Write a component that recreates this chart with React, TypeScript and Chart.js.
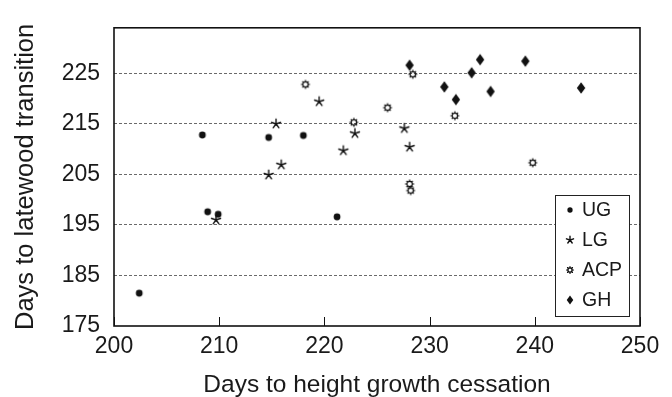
import React, { useEffect, useRef } from "react";
import { Chart, registerables } from "chart.js";

Chart.register(...registerables);

const seriesNames = ["UG", "LG", "ACP", "GH"];

const ugX = [202.4, 208.4, 208.9, 209.9, 214.7, 218.0, 221.2];
const ugY = [181.5, 212.8, 197.6, 197.1, 212.3, 212.7, 196.6];

const lgX = [209.7, 214.7, 215.4, 215.9, 219.5, 221.8, 222.9, 227.6, 228.1];
const lgY = [196.0, 204.9, 215.0, 206.9, 219.4, 209.7, 213.1, 214.1, 210.4];

const acpX = [218.2, 222.8, 226.0, 228.1, 228.2, 228.4, 232.4, 239.8];
const acpY = [222.8, 215.3, 218.2, 203.1, 201.8, 224.8, 216.6, 207.3];

const ghX = [228.1, 231.4, 232.5, 234.0, 234.8, 235.8, 239.1, 244.4];
const ghY = [226.6, 222.3, 219.8, 225.1, 227.7, 221.4, 227.4, 222.1];

const xTicks = [200, 210, 220, 230, 240, 250];
const yTicks = [175, 185, 195, 205, 215, 225];
const xTitle = "Days to height growth cessation";
const yTitle = "Days to latewood transition";

const FONT = "'Liberation Sans', Arial, Helvetica, sans-serif";
const INK = "#111111";

type DrawFn = (ctx: CanvasRenderingContext2D, cx: number, cy: number, s: number) => void;

const drawDot: DrawFn = (ctx, cx, cy, s) => {
  ctx.beginPath();
  ctx.arc(cx, cy, 3.4 * s, 0, Math.PI * 2);
  ctx.fillStyle = INK;
  ctx.fill();
};

const drawAsterisk: DrawFn = (ctx, cx, cy, s) => {
  ctx.strokeStyle = INK;
  ctx.lineWidth = 1.4;
  ctx.lineCap = "round";
  ctx.beginPath();
  for (let k = 0; k < 5; k++) {
    const a = -Math.PI / 2 + (k * 2 * Math.PI) / 5;
    ctx.moveTo(cx, cy);
    ctx.lineTo(cx + Math.cos(a) * 4.8 * s, cy + Math.sin(a) * 4.8 * s);
  }
  ctx.stroke();
};

const drawSun: DrawFn = (ctx, cx, cy, s) => {
  ctx.strokeStyle = INK;
  ctx.lineWidth = 1.2;
  ctx.beginPath();
  ctx.arc(cx, cy, 2.7 * s, 0, Math.PI * 2);
  ctx.stroke();
  ctx.beginPath();
  for (let k = 0; k < 8; k++) {
    const a = (k * Math.PI) / 4;
    ctx.moveTo(cx + Math.cos(a) * 2.7 * s, cy + Math.sin(a) * 2.7 * s);
    ctx.lineTo(cx + Math.cos(a) * 4.5 * s, cy + Math.sin(a) * 4.5 * s);
  }
  ctx.stroke();
};

const drawDiamond: DrawFn = (ctx, cx, cy, s) => {
  ctx.fillStyle = INK;
  ctx.beginPath();
  ctx.moveTo(cx, cy - 5.8 * s);
  ctx.lineTo(cx + 4.2 * s, cy);
  ctx.lineTo(cx, cy + 5.8 * s);
  ctx.lineTo(cx - 4.2 * s, cy);
  ctx.closePath();
  ctx.fill();
};

const markerFns: DrawFn[] = [drawDot, drawAsterisk, drawSun, drawDiamond];

function makeMarker(fn: DrawFn): HTMLCanvasElement {
  const c = document.createElement("canvas");
  c.width = 14;
  c.height = 14;
  const ctx = c.getContext("2d")!;
  fn(ctx, 7, 7, 1);
  return c;
}

function toPoints(xs: number[], ys: number[]) {
  return xs.map((x, i) => ({ x, y: ys[i] }));
}

const framePlugin = {
  id: "frameAndLegend",
  afterDraw(chart: any) {
    const { ctx, chartArea } = chart;
    const xs = chart.scales.x;
    ctx.save();
    // inward x ticks
    ctx.strokeStyle = INK;
    ctx.lineWidth = 1;
    ctx.beginPath();
    xTicks.forEach((v) => {
      const px = Math.round(xs.getPixelForValue(v)) + 0.5;
      ctx.moveTo(px, chartArea.bottom);
      ctx.lineTo(px, chartArea.bottom - 9);
    });
    ctx.stroke();
    // frame
    ctx.lineWidth = 1.6;
    ctx.strokeRect(chartArea.left, chartArea.top, chartArea.right - chartArea.left, chartArea.bottom - chartArea.top);

    // legend box
    const bw = 74;
    const bh = 121;
    const bx = chartArea.right - 11 - bw;
    const by = chartArea.bottom - 10 - bh;
    ctx.fillStyle = "#ffffff";
    ctx.fillRect(bx, by, bw, bh);
    ctx.lineWidth = 1;
    ctx.strokeStyle = "#222";
    ctx.strokeRect(Math.round(bx) + 0.5, Math.round(by) + 0.5, bw, bh);
    ctx.font = `19.5px ${FONT}`;
    ctx.textBaseline = "middle";
    ctx.textAlign = "left";
    seriesNames.forEach((name, i) => {
      const cy = by + 15 + i * 30;
      markerFns[i](ctx, bx + 15, cy, 0.78);
      ctx.fillStyle = "#1a1a1a";
      ctx.fillText(name, bx + 27, cy + 1);
    });
    ctx.restore();
  },
};

export default function App() {
  const ref = useRef<HTMLCanvasElement | null>(null);

  useEffect(() => {
    document.body.style.margin = "0";
    const canvas = ref.current;
    if (!canvas) return;
    const markers = markerFns.map(makeMarker);
    const seriesData = [
      toPoints(ugX, ugY),
      toPoints(lgX, lgY),
      toPoints(acpX, acpY),
      toPoints(ghX, ghY),
    ];
    const chart = new Chart(canvas, {
      type: "scatter",
      data: {
        datasets: seriesNames.map((name, i) => ({
          label: name,
          data: seriesData[i],
          pointStyle: markers[i] as any,
          pointRadius: 5,
          showLine: false,
        })),
      },
      options: {
        animation: false,
        responsive: false,
        maintainAspectRatio: false,
        layout: { padding: { top: 11, right: 32, left: 0, bottom: 0 } },
        plugins: {
          legend: { display: false },
          tooltip: { enabled: false },
        },
        scales: {
          x: {
            type: "linear",
            min: xTicks[0],
            max: xTicks[xTicks.length - 1],
            afterBuildTicks: (scale: any) => {
              scale.ticks = xTicks.map((v) => ({ value: v }));
            },
            afterFit: (scale: any) => {
              scale.height = 71;
            },
            grid: { display: false, drawTicks: false },
            border: { display: false },
            ticks: {
              padding: 7,
              color: "#1a1a1a",
              font: { family: FONT, size: 23 },
              maxRotation: 0,
              autoSkip: false,
            },
            title: {
              display: true,
              text: xTitle,
              color: "#1a1a1a",
              font: { family: FONT, size: 24.5, lineHeight: 1 },
              padding: 0,
            },
          },
          y: {
            type: "linear",
            min: yTicks[0],
            max: 234,
            afterBuildTicks: (scale: any) => {
              scale.ticks = yTicks.map((v) => ({ value: v }));
            },
            afterFit: (scale: any) => {
              scale.width = 114;
            },
            grid: {
              drawTicks: false,
              lineWidth: 1,
              color: (c: any) => (c.tick && c.tick.value === yTicks[0] ? "rgba(0,0,0,0)" : "#6a6a6a"),
            },
            border: { display: false, dash: [3, 2] },
            ticks: {
              padding: 14,
              color: "#1a1a1a",
              font: { family: FONT, size: 23 },
              autoSkip: false,
            },
            title: {
              display: true,
              text: yTitle,
              color: "#1a1a1a",
              font: { family: FONT, size: 25.5, lineHeight: 1 },
              padding: { top: 13, bottom: 0 },
            },
          },
        },
      },
      plugins: [framePlugin],
    });
    return () => chart.destroy();
  }, []);

  return (
    <div style={{ width: 672, height: 397, position: "relative" }}>
      <canvas ref={ref} width={672} height={397} style={{ display: "block" }} />
    </div>
  );
}
